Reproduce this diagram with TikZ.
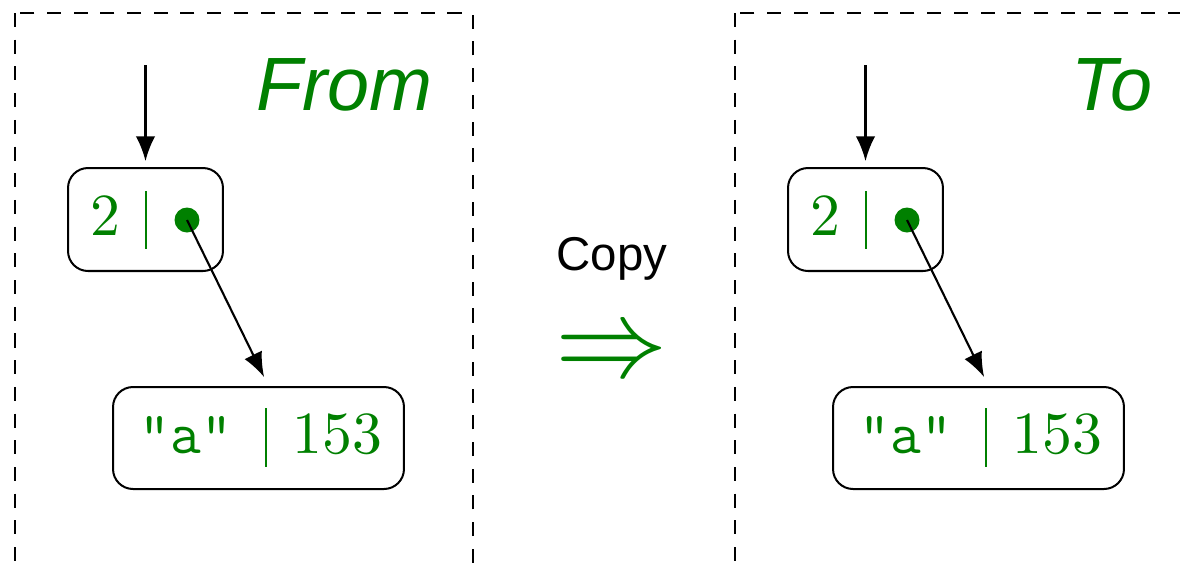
\RequirePackage{fix-cm}
\documentclass[tikz,border=0pt]{standalone}
\usepackage{fontspec}
\newfontfamily\helv{Liberation Sans}
\newfontfamily\lmten{lmroman10-regular.otf}
\newfontfamily\lmtt{lmmono12-regular.otf}
\usetikzlibrary{arrows.meta,calc}
\definecolor{dgreen}{RGB}{0,128,0}
\begin{document}
\begin{tikzpicture}[x=0.02cm,y=-0.02cm,
  frame/.style={draw, line width=1.14pt, dash pattern=on 8pt off 7.2pt},
  cell/.style={draw, line width=1.14pt, rounded corners=0.4cm, inner sep=0pt},
  val/.style={text=dgreen, font=\lmten\fontsize{34}{40}\selectfont, anchor=base, inner sep=0pt},
  sep/.style={dgreen, line width=1.5pt},
  ptr/.style={circle, fill=dgreen, inner sep=0pt, minimum size=0.5cm},
  link/.style={line width=1.2pt, -{Latex[length=14pt,width=11pt]}},
  title/.style={text=dgreen, font=\helv\itshape\fontsize{43}{52}\selectfont, anchor=base east, inner sep=0pt}
]
\useasboundingbox (0,0) rectangle (1180,566);
\clip (0,0) rectangle (1180,566);
\foreach \dx/\nm/\ttl in {0/L/From, 720/R/To}{
  \draw[frame] (15+\dx,13) rectangle (472.5+\dx,620);
  \node[cell, minimum width=3.1cm, minimum height=2.06cm] (up\nm) at (145.5+\dx,219.5) {};
  \node[val] (two\nm) at (105+\dx,235) {2};
  \draw[sep] (146+\dx,191) -- (146+\dx,249);
  \node[ptr] (dot\nm) at (187+\dx,220) {};
  \node[cell, minimum width=5.82cm, minimum height=2.04cm] (low\nm) at (258.5+\dx,438) {};
  \node[val, font=\lmtt\fontsize{34}{40}\selectfont] (str\nm) at (186+\dx,453) {"a"};
  \draw[sep] (266+\dx,408) -- (266+\dx,467);
  \node[val] (num\nm) at (337.5+\dx,453) {153};
  \coordinate (in\nm) at (145.5+\dx,65);
  \draw[link, shorten >=3.4pt] (in\nm) -- (up\nm.north);
  \draw[link, shorten >=5.7pt] (dot\nm.center) -- ([xshift=0.2cm]low\nm.north);
  \node[title] (title\nm) at (433+\dx,110) {\ttl};
}
\node[font=\helv\fontsize{27}{32}\selectfont, anchor=base, inner sep=0pt] (copy) at (612,270) {Copy};
\node[text=dgreen, font=\fontsize{64}{72}\selectfont, inner sep=0pt] (imp) at (612,356) {$\Rightarrow$};
\end{tikzpicture}
\end{document}
